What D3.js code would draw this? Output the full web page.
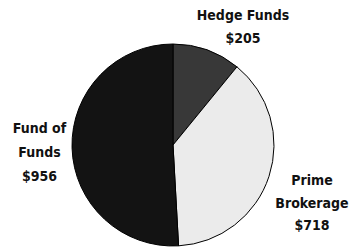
<!DOCTYPE html>
<html>
<head>
<meta charset="utf-8">
<script src="https://cdn.jsdelivr.net/npm/d3@7"></script>
<style>
  body { margin: 0; background: #fff; }
  svg { display: block; }
  text { font-family: "DejaVu Sans Condensed", "DejaVu Sans", sans-serif; font-weight: bold; font-size: 14px; fill: #111; }
</style>
</head>
<body>
<svg width="354" height="250"></svg>
<script>
// segments, clockwise from 12 o'clock
let names = ["Hedge Funds", "Prime Brokerage", "Fund of Funds"];
let amounts = [205, 718, 956];
let fills = ["#383838", "#ebebeb", "#131313"];
// label lines as drawn
let labelLines = [
  ["Hedge Funds", "$205"],
  ["Prime", "Brokerage", "$718"],
  ["Fund of", "Funds", "$956"]
];

let svg = d3.select("svg"),
  cx = 173, cy = 145, r = 101;

let pie = d3.pie().sort(null).value(d => d);
let arc = d3.arc().innerRadius(0).outerRadius(r);
let arcs = pie(amounts);

let g = svg.append("g").attr("transform", `translate(${cx},${cy})`);

g.selectAll("path")
  .data(arcs)
  .enter().append("path")
  .attr("d", arc)
  .attr("fill", (d, i) => fills[i])
  .attr("stroke", "#000")
  .attr("stroke-width", 1);

// label anchor (center x, first baseline) per slice
let labelPos = [[243, 19.5], [312, 185], [39.5, 133]];
let lineGap = [23.5, 22.5, 24];

labelLines.forEach((lines, i) => {
  let t = svg.append("text")
    .attr("text-anchor", "middle")
    .attr("x", labelPos[i][0])
    .attr("y", labelPos[i][1]);
  lines.forEach((s, j) => {
    t.append("tspan")
      .attr("x", labelPos[i][0])
      .attr("y", labelPos[i][1] + j * lineGap[i])
      .text(s);
  });
});
</script>
</body>
</html>
